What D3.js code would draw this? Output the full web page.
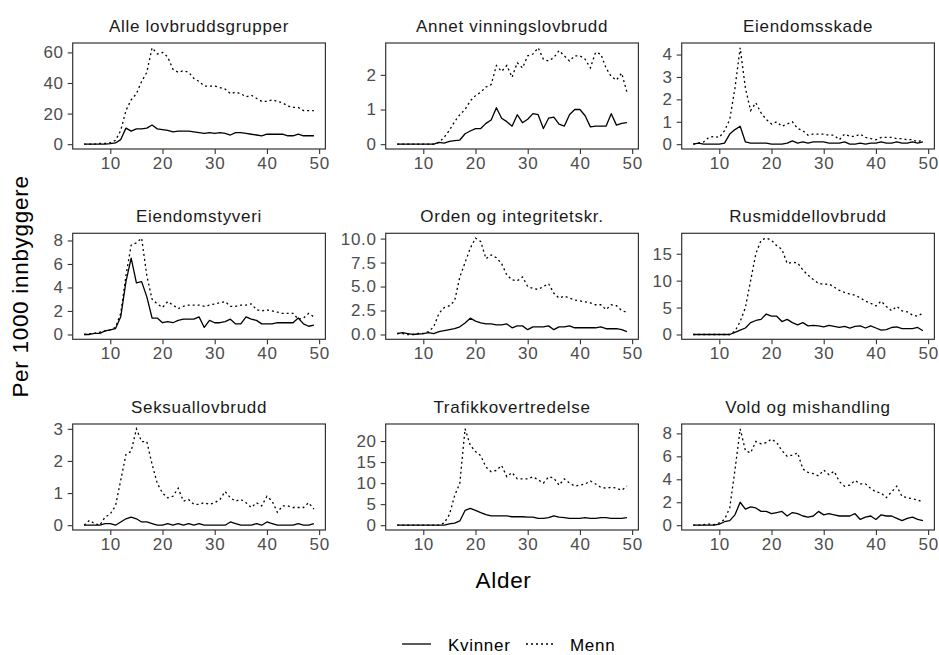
<!DOCTYPE html>
<html><head><meta charset="utf-8">
<script src="https://cdn.jsdelivr.net/npm/d3@7"></script>
<style>
body{margin:0;background:#fff}
svg{display:block}
text{font-family:"Liberation Sans",Arial,sans-serif}
</style>
</head><body>
<svg id="chart" width="939" height="655"></svg>
<script>
// ---------- DATA ----------
const ages = [5,6,7,8,9,10,11,12,13,14,15,16,17,18,19,20,21,22,23,24,25,26,27,28,29,30,31,32,33,34,35,36,37,38,39,40,41,42,43,44,45,46,47,48,49];

const panelTitles = ["Alle lovbruddsgrupper","Annet vinningslovbrudd","Eiendomsskade",
  "Eiendomstyveri","Orden og integritetskr.","Rusmiddellovbrudd",
  "Seksuallovbrudd","Trafikkovertredelse","Vold og mishandling"];

const seriesNames = ["Kvinner","Menn"];
const xTicks = [10,20,30,40,50];

const alleK = [0,0,0,0,0, 0.3,0.8,3,10.5,8.5, 10,10,10.5,12.5,10, 9.5,9,8,8.5,8.5, 8.5,8,7.5,7,7.5, 7,7.5,7,6,7.5, 7.5,7,6.5,6,5.5, 6.5,6.5,6.5,6.5,5.5, 5.5,6.5,5.5,5.5,5.5];
const alleM = [0,0,0,0.5,0.5, 1,2.5,9,22,29, 33,41,47,63,59, 60,57,49,47,48, 47,43,41,38,38, 38,37,36,33,34, 33,31,32,30,28, 28,29,28,27,25, 24,24,22,22,22];

const annetK = [0,0,0,0,0, 0,0,0,0.05,0.03, 0.08,0.1,0.12,0.3,0.38, 0.45,0.45,0.6,0.7,1.05, 0.75,0.65,0.52,0.85,0.62, 0.72,0.88,0.85,0.45,0.75, 0.78,0.58,0.52,0.85,1.0, 1.0,0.82,0.5,0.52,0.52, 0.52,0.88,0.55,0.6,0.62];
const annetM = [0,0,0,0,0, 0,0,0,0.05,0.2, 0.4,0.65,0.85,1.0,1.25, 1.4,1.5,1.65,1.72,2.27, 2.1,2.27,1.93,2.35,2.2, 2.55,2.6,2.78,2.45,2.4, 2.5,2.7,2.55,2.4,2.55, 2.55,2.45,2.2,2.65,2.6, 2.2,1.95,1.85,2.05,1.5];

const skadeK = [0,0.05,0,0,0, 0,0.05,0.45,0.65,0.8, 0.1,0.05,0.05,0.05,0.05, 0,0,0,0.05,0.15, 0.05,0.1,0.05,0.1,0.1, 0.1,0.05,0.05,0.05,0.1, 0,0,0.05,0,0.05, 0.05,0.1,0.05,0.05,0.1, 0.05,0.05,0.1,0.05,0.1];
const skadeM = [0,0.05,0.1,0.3,0.35, 0.3,0.6,1.1,2.5,4.3, 2.5,1.5,1.85,1.4,1.1, 0.9,1.0,0.8,0.9,1.0, 0.7,0.6,0.4,0.45,0.45, 0.45,0.4,0.4,0.2,0.45, 0.35,0.35,0.45,0.3,0.25, 0.2,0.3,0.3,0.3,0.25, 0.25,0.2,0.2,0.1,0.2];

const styvK = [0,0,0.1,0.1,0.3, 0.4,0.5,1.5,4.5,6.5, 4.4,4.5,3.2,1.4,1.4, 1.0,1.1,1.0,1.2,1.3, 1.3,1.3,1.5,0.6,1.2, 1.0,1.0,1.1,1.3,0.9, 0.9,1.5,1.3,1.2,0.9, 0.9,0.9,1.0,1.0,1.0, 1.0,1.4,0.9,0.7,0.8];
const styvM = [0,0.05,0.1,0.2,0.3, 0.4,0.6,1.8,5.0,7.6, 7.8,8.2,5.0,3.0,2.6, 2.3,2.8,2.5,2.2,2.4, 2.5,2.5,2.5,2.4,2.5, 2.6,2.7,2.8,2.4,2.4, 2.5,2.5,2.6,2.1,2.0, 2.1,2.0,1.9,1.8,1.8, 1.8,1.3,1.4,1.8,1.5];

const ordenK = [0.1,0.2,0.1,0,0.05, 0.1,0.2,0.1,0.3,0.4, 0.5,0.6,0.8,1.2,1.7, 1.4,1.2,1.1,1.1,1.0, 1.0,1.1,0.7,0.9,0.9, 0.5,0.8,0.8,0.8,0.9, 0.5,0.8,0.8,0.9,0.7, 0.7,0.7,0.7,0.7,0.8, 0.6,0.6,0.6,0.5,0.3];
const ordenM = [0.1,0.1,0,0,0.1, 0.1,0.3,0.8,2.2,2.8, 3.0,3.5,6.0,7.5,9.0, 10.05,9.7,7.9,8.3,8.0, 7.4,6.2,5.7,5.6,6.0, 5.0,4.8,4.7,5.0,5.3, 4.3,3.8,4.0,3.8,3.6, 3.5,3.4,3.3,3.1,3.1, 2.6,3.1,3.0,2.5,2.3];

const rusK = [0,0,0,0,0, 0,0,0,0.4,0.8, 1.2,2.2,2.6,2.8,3.8, 3.4,3.4,2.4,2.8,2.2, 1.8,2.2,1.6,1.7,1.6, 1.4,1.7,1.5,1.3,1.5, 1.2,1.5,1.6,1.2,1.6, 1.2,0.8,0.9,1.3,1.4, 1.1,1.1,1.1,1.3,0.7];
const rusM = [0,0,0,0,0, 0,0,0,0.6,2.4, 5.0,10.0,15.0,17.5,17.9, 17.5,16.5,15.8,13.2,13.4, 13.3,12.0,11.0,10.2,9.5, 9.3,9.4,8.8,8.2,7.8, 7.5,7.3,6.8,6.2,5.8, 5.3,6.2,5.2,4.4,5.2, 4.4,4.2,3.6,3.4,4.0];

const seksK = [0,0,0,0,0.05, 0.05,0,0.1,0.2,0.25, 0.2,0.1,0.1,0.05,0, 0,0.05,0,0.05,0, 0.05,0,0.05,0,0, 0,0,0,0.1,0.05, 0,0,0,0.05,0, 0.1,0.05,0,0,0, 0,0.05,0,0,0.05];
const seksM = [0,0.15,0.05,0,0.25, 0.35,0.6,1.4,2.2,2.3, 3.0,2.6,2.6,1.9,1.3, 1.0,0.85,0.9,1.15,0.75, 0.8,0.65,0.65,0.7,0.65, 0.7,0.8,1.05,0.85,0.75, 0.8,0.7,0.55,0.7,0.6, 0.9,0.75,0.4,0.6,0.6, 0.55,0.55,0.55,0.7,0.5];

const trafK = [0,0,0,0,0, 0,0,0,0,0, 0.3,0.5,1.0,3.5,4.0, 3.5,3.0,2.5,2.2,2.2, 2.2,2.2,2.0,2.0,2.0, 1.9,1.9,1.6,1.6,1.8, 2.2,1.9,1.8,1.6,1.6, 1.6,1.8,1.6,1.6,1.8, 1.8,1.6,1.6,1.6,1.8];
const trafM = [0,0,0,0,0, 0,0,0,0,0.5, 2.5,7.0,10.0,22.9,19.0, 17.5,16.5,13.8,12.7,13.0, 14.2,11.5,12.5,11.0,11.0, 11.0,11.5,10.8,10.0,11.5, 11.2,9.5,11.0,10.0,9.3, 9.5,9.8,10.5,9.8,9.0, 8.8,9.0,8.8,8.3,9.3];

const voldK = [0,0,0,0,0, 0.1,0.3,0.4,0.9,2.0, 1.4,1.6,1.5,1.2,1.2, 1.0,1.1,1.2,0.8,1.1, 1.0,0.8,0.7,0.8,1.2, 0.9,1.0,0.9,0.8,0.8, 0.8,1.0,0.5,0.7,0.8, 0.5,0.9,0.8,0.8,0.6, 0.4,0.6,0.7,0.5,0.4];
const voldM = [0,0,0.05,0.1,0.05, 0.2,0.5,1.5,4.8,8.4, 6.5,6.3,7.3,7.1,7.2, 7.5,7.2,6.5,6.0,6.1, 6.3,4.9,4.6,4.5,4.3, 4.8,4.4,4.7,3.8,3.4, 3.5,3.9,3.6,3.6,3.2, 2.9,2.8,2.4,2.9,3.4, 2.5,2.4,2.3,2.2,2.0];

const yTicksAlle = [0,20,40,60];
const yTicksAnnet = [0,1,2];
const yTicksSkade = [0,1,2,3,4];
const yTicksStyv = [0,2,4,6,8];
const yTicksOrden = [0,2.5,5,7.5,10];
const yTicksRus = [0,5,10,15];
const yTicksSeks = [0,1,2,3];
const yTicksTraf = [0,5,10,15,20];
const yTicksVold = [0,2,4,6,8];

// ---------- BUILD PANELS ----------
const kvinnerSeries = [alleK, annetK, skadeK, styvK, ordenK, rusK, seksK, trafK, voldK];
const mennSeries = [alleM, annetM, skadeM, styvM, ordenM, rusM, seksM, trafM, voldM];
const yTickSets = [yTicksAlle, yTicksAnnet, yTicksSkade, yTicksStyv, yTicksOrden, yTicksRus, yTicksSeks, yTicksTraf, yTicksVold];
const yFormats = ["d","d","d","d",".1f","d","d","d","d"];

// ---------- LAYOUT ----------
const colLeft = [72.7, 385.7, 681.7];
const rowTop = [43, 233.3, 424];
const panelW = 252.7, panelH = 106;
const fontSmall = 17, fontBig = 22.5, ls = 0.7;

const svg = d3.select("#chart");
svg.append("rect").attr("width",939).attr("height",655).attr("fill","#fff");

const xDomainRaw = d3.extent(ages);
const xPad = (xDomainRaw[1]-xDomainRaw[0])*0.05;

panelTitles.forEach((title, i) => {
  const col = i % 3, row = Math.floor(i / 3);
  const left = colLeft[col], top = rowTop[row];
  const g = svg.append("g").attr("transform", `translate(${left},${top})`);

  const x = d3.scaleLinear().domain([xDomainRaw[0]-xPad, xDomainRaw[1]+xPad]).range([0, panelW]);
  const all = kvinnerSeries[i].concat(mennSeries[i]);
  const ext = d3.extent(all);
  const yPad = (ext[1]-ext[0])*0.05;
  const y = d3.scaleLinear().domain([ext[0]-yPad, ext[1]+yPad]).range([panelH, 0]);

  const yAxis = g.append("g").call(d3.axisLeft(y).tickValues(yTickSets[i]).tickFormat(d3.format(yFormats[i])).tickSize(5).tickPadding(4));
  const xAxis = g.append("g").attr("transform",`translate(0,${panelH})`).call(d3.axisBottom(x).tickValues(xTicks).tickFormat(d3.format("d")).tickSize(5).tickPadding(3));
  [yAxis, xAxis].forEach(a => {
    a.select(".domain").remove();
    a.selectAll(".tick line").attr("stroke","#333").attr("stroke-width",1.1);
    a.selectAll(".tick text").attr("fill","#4D4D4D").style("font-size",fontSmall+"px")
      .style("font-family",'"Liberation Sans",Arial,sans-serif').style("letter-spacing",ls+"px");
  });

  const line = d3.line().x((d,j) => x(ages[j])).y(d => y(d));
  g.append("path").datum(kvinnerSeries[i]).attr("d", line)
    .attr("fill","none").attr("stroke","#000").attr("stroke-width",1.3).attr("stroke-linejoin","round");
  g.append("path").datum(mennSeries[i]).attr("d", line)
    .attr("fill","none").attr("stroke","#000").attr("stroke-width",1.3).attr("stroke-dasharray","2,3");

  g.append("rect").attr("width",panelW).attr("height",panelH)
    .attr("fill","none").attr("stroke","#333").attr("stroke-width",1.2);

  g.append("text").attr("x",panelW/2).attr("y",-11.5).attr("text-anchor","middle")
    .attr("fill","#1A1A1A").style("font-size",fontSmall+"px").style("letter-spacing",ls+"px")
    .text(title);
});

const plotMidX = (colLeft[0] + colLeft[2] + panelW)/2;
svg.append("text").attr("x",plotMidX).attr("y",588).attr("text-anchor","middle")
  .style("font-size",fontBig+"px").style("letter-spacing",ls+"px").attr("fill","#000").text("Alder");
const plotMidY = (rowTop[0] + rowTop[2] + panelH)/2;
svg.append("text").attr("transform",`translate(28,${plotMidY}) rotate(-90)`).attr("text-anchor","middle")
  .style("font-size",fontBig+"px").style("letter-spacing",ls+"px").attr("fill","#000").text("Per 1000 innbyggere");

const legendY = 644;
const legendItems = [
  {name: seriesNames[0], x1: 402, x2: 431, tx: 448, dash: null},
  {name: seriesNames[1], x1: 526, x2: 555, tx: 570, dash: "2,3"}
];
legendItems.forEach(it => {
  const l = svg.append("line").attr("x1",it.x1).attr("x2",it.x2).attr("y1",legendY).attr("y2",legendY)
    .attr("stroke","#000").attr("stroke-width",1.3);
  if (it.dash) l.attr("stroke-dasharray", it.dash);
  svg.append("text").attr("x",it.tx).attr("y",legendY+7).style("font-size",fontSmall+"px")
    .style("letter-spacing",ls+"px").attr("fill","#000").text(it.name);
});
</script>
</body></html>
